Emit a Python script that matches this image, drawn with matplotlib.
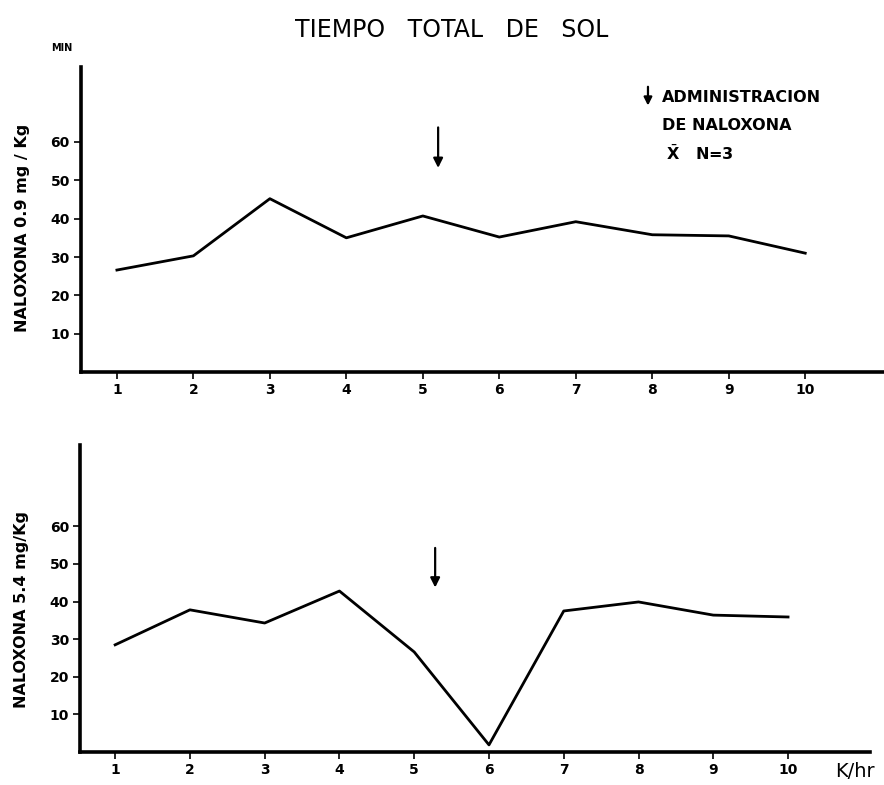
import numpy as np
import matplotlib
matplotlib.use("Agg")
import matplotlib.pyplot as plt

HOURS = [1, 2, 3, 4, 5, 6, 7, 8, 9, 10]
DOSE_09 = [26.6, 30.3, 45.2, 35.0, 40.7, 35.2, 39.2, 35.8, 35.5, 31.0]
DOSE_54 = [28.5, 37.8, 34.3, 42.8, 26.6, 1.9, 37.5, 39.9, 36.4, 35.9]
Y_TICKS = [10, 20, 30, 40, 50, 60]
ARROW_X = [5.2, 5.28]

plt.rcParams["font.family"] = "DejaVu Sans"

fig = plt.figure(figsize=(8.84, 7.85), dpi=100)
ax1 = fig.add_axes([0.0916, 0.526, 0.9084, 0.389])
ax2 = fig.add_axes([0.0905, 0.042, 0.894, 0.391])


def style(ax, values, ylim_top, xlim_right):
    ax.plot(HOURS, values, color="black", lw=2.0)
    ax.set_xlim(0.53, xlim_right)
    ax.set_ylim(0, ylim_top)
    ax.set_xticks(HOURS)
    ax.set_xticklabels([str(h) for h in HOURS], fontsize=10, fontweight="bold")
    ax.set_yticks(Y_TICKS)
    ax.set_yticklabels([str(t) for t in Y_TICKS], fontsize=10, fontweight="bold")
    for side in ["top", "right"]:
        ax.spines[side].set_visible(False)
    for side in ["left", "bottom"]:
        ax.spines[side].set_linewidth(2.6)
    ax.tick_params(axis="both", direction="out", length=5, width=1.2, pad=3)


style(ax1, DOSE_09, 79.6, 11.03)
style(ax2, DOSE_54, 81.6, 11.1)

ax1.annotate("", xy=(ARROW_X[0], 52.5), xytext=(ARROW_X[0], 64.5),
             arrowprops=dict(arrowstyle="-|>", color="black", lw=1.6, mutation_scale=14))
ax2.annotate("", xy=(ARROW_X[1], 43.0), xytext=(ARROW_X[1], 55.0),
             arrowprops=dict(arrowstyle="-|>", color="black", lw=1.6, mutation_scale=14))

ax1.set_ylabel("NALOXONA 0.9 mg / Kg", fontsize=11.5, fontweight="bold")
ax2.set_ylabel("NALOXONA 5.4 mg/Kg", fontsize=11.5, fontweight="bold")
ax1.yaxis.set_label_coords(-0.064, 0.472)
ax2.yaxis.set_label_coords(-0.064, 0.463)

fig.text(0.511, 0.962, "TIEMPO   TOTAL   DE   SOL", ha="center", va="center", fontsize=17)
fig.text(0.07, 0.939, "MIN", ha="center", va="center", fontsize=7, fontweight="bold")

# legend block
ax1.annotate("", xy=(0.733, 0.862), xytext=(0.733, 0.893),
             xycoords="figure fraction", textcoords="figure fraction",
             arrowprops=dict(arrowstyle="-|>", color="black", lw=1.6, mutation_scale=12),
             annotation_clip=False)
fig.text(0.749, 0.876, "ADMINISTRACION", ha="left", va="center", fontsize=11.5, fontweight="bold")
fig.text(0.749, 0.840, "DE NALOXONA", ha="left", va="center", fontsize=11.5, fontweight="bold")
fig.text(0.753, 0.805, r"$\bar{\mathbf{X}}$   N=3", ha="left", va="center", fontsize=11.5, fontweight="bold")

fig.text(0.967, 0.017, "K/hr", ha="center", va="center", fontsize=14)

fig.savefig("out.png", dpi=100)
